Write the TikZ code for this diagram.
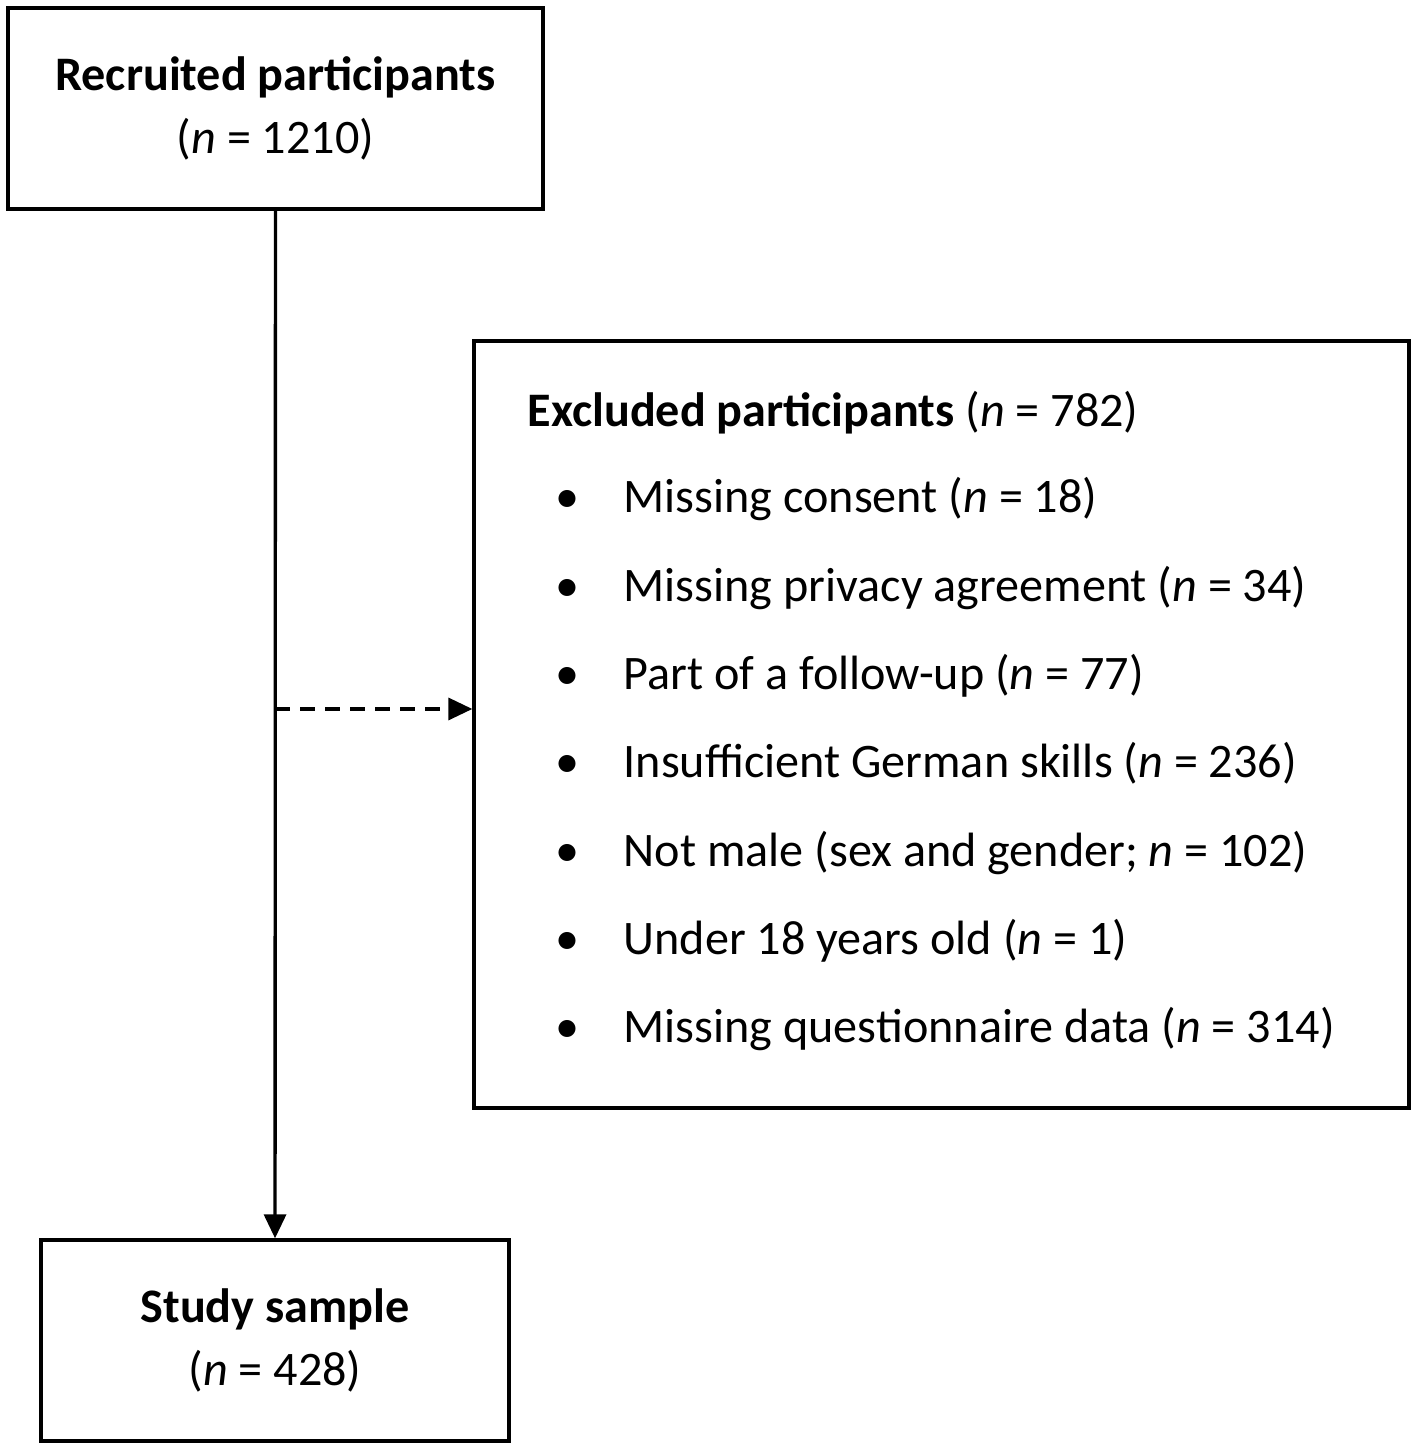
\documentclass[tikz,border=0pt]{standalone}
\usepackage{fontspec}
\setmainfont{Carlito}
\usetikzlibrary{arrows.meta,positioning}
\begin{document}
\begin{tikzpicture}[x=1cm, y=1cm]
    \tikzset{ box/.style={rectangle,draw,line width=0.95pt,inner sep=0pt,align=center,font=\fontsize{13.7}{17.9}\selectfont},
            item/.style={anchor=base west,inner sep=0pt,font=\fontsize{13.7}{17.9}\selectfont},
            arrow/.style={-{Triangle[length=0.24cm,width=0.22cm]}, line width=0.95pt}}
    \useasboundingbox (0,0) rectangle (14.18,14.5);

    \node[box, minimum width=5.35cm, minimum height=2.01cm] (recr) at (2.755,13.415) {\textbf{Recruited participants}\\(\textit{n} = 1210)};
    \node[box, minimum width=9.35cm, minimum height=7.67cm] (excl) at (9.415,7.255) {};
    \node[box, minimum width=4.68cm, minimum height=2.01cm] (study) at (2.75,1.095) {\textbf{Study sample}\\(\textit{n} = 428)};

    % Liste des exclusions
    \node[item] (title) at (5.27,10.23) {\textbf{Excluded participants} (\textit{n} = 782)};
    \foreach \txt [count=\i] in {Missing consent (\textit{n} = 18),
            Missing privacy agreement (\textit{n} = 34),
            Part of a follow-up (\textit{n} = 77),
            Insufficient German skills (\textit{n} = 236),
            {Not male (sex and gender; \textit{n} = 102)},
            Under 18 years old (\textit{n} = 1),
            Missing questionnaire data (\textit{n} = 314)}{
        \node[item, anchor=base] (dot\i) at (5.67,{9.37-0.883*(\i-1)}) {\textbullet};
        \node[item] (it\i) at (6.23,{9.37-0.883*(\i-1)}) {\txt};
    }

    % Flèches
    \draw[arrow] (recr) -- (study);
    \coordinate (split) at (2.75,7.41);
    \draw[arrow, dashed, dash pattern=on 0.15cm off 0.1cm] (split) -- (excl.west |- split);
\end{tikzpicture}
\end{document}
